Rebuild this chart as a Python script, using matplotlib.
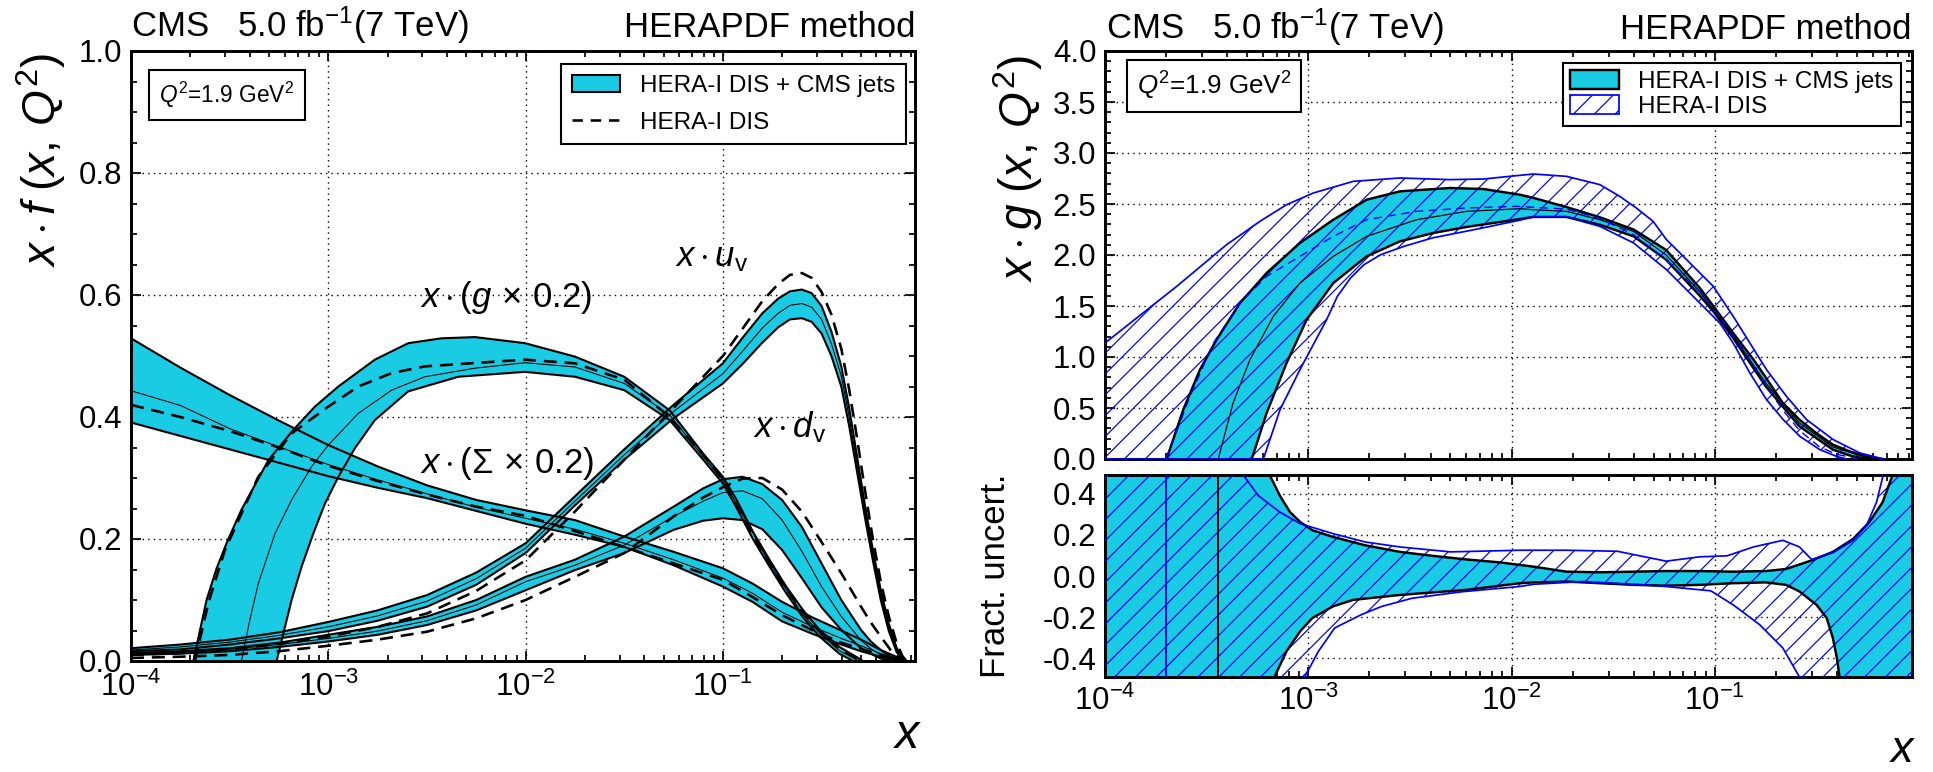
import numpy as np
import matplotlib
matplotlib.use('Agg')
import matplotlib.pyplot as plt
from matplotlib.patches import Patch
from matplotlib.lines import Line2D
from matplotlib.ticker import MultipleLocator, LogLocator, NullFormatter, FormatStrFormatter

W, H, DPI = 1933, 772, 125

plt.rcParams.update({
    'font.family': ['Liberation Sans', 'DejaVu Sans'],
    'mathtext.fontset': 'custom',
    'mathtext.rm': 'Liberation Sans',
    'mathtext.it': 'Liberation Sans:italic',
    'mathtext.bf': 'Liberation Sans:bold',
    'hatch.linewidth': 0.7,
    'hatch.color': 'blue',
})

CYAN = '#19cbe3'

# ---- left panel: x*f(x,Q2) (log10 x, value) ----
g_up_lx = [-3.684, -3.617, -3.566, -3.507, -3.44, -3.304, -3.177, -3.068, -2.949, -2.764, -2.595, -2.426, -2.257,
           -2.003, -1.75, -1.5, -1.27, -1.1, -1.0, -0.932, -0.848, -0.764, -0.679, -0.595, -0.51, -0.409, -0.341, -0.29]
g_up = [0, 0.100, 0.152, 0.200, 0.248, 0.329, 0.379, 0.417, 0.450, 0.494, 0.521, 0.529, 0.531,
        0.521, 0.499, 0.466, 0.411, 0.340, 0.302, 0.265, 0.212, 0.166, 0.122, 0.084, 0.051, 0.023, 0.010, 0.0]
g_lo_lx = [-3.262, -3.228, -3.186, -3.135, -3.076, -3.017, -2.949, -2.865, -2.764, -2.595, -2.341, -2.003, -1.75,
           -1.5, -1.27, -1.1, -1.0, -0.932, -0.848, -0.764, -0.679, -0.595, -0.51, -0.41, -0.34]
g_lo = [0, 0.045, 0.100, 0.155, 0.209, 0.258, 0.302, 0.349, 0.395, 0.442, 0.466, 0.474, 0.466,
        0.444, 0.395, 0.330, 0.291, 0.252, 0.200, 0.155, 0.111, 0.072, 0.040, 0.012, 0.0]
g_c_lx = [-3.44, -3.398, -3.355, -3.27, -3.186, -3.084, -3.0, -2.848, -2.679, -2.51, -2.257, -2.003, -1.75, -1.5,
          -1.27, -1.1, -1.0, -0.848, -0.764, -0.6, -0.51, -0.41, -0.31]
g_c = [0, 0.067, 0.127, 0.209, 0.264, 0.319, 0.354, 0.406, 0.444, 0.466, 0.480, 0.489, 0.482, 0.455,
       0.403, 0.335, 0.297, 0.210, 0.160, 0.078, 0.046, 0.017, 0.0]
g_d_lx = [-3.676, -3.608, -3.524, -3.355, -3.186, -3.0, -2.848, -2.679, -2.51, -2.003, -1.75, -1.5, -1.27,
          -1.1, -1.0, -0.848, -0.7, -0.55, -0.41, -0.3]
g_d = [0, 0.095, 0.182, 0.302, 0.373, 0.417, 0.450, 0.472, 0.483, 0.494, 0.488, 0.461, 0.400,
       0.338, 0.297, 0.205, 0.127, 0.062, 0.020, 0.0]

s_lx = [-4, -3.75, -3.5, -3.25, -3.0, -2.75, -2.5, -2.25, -2.0, -1.75, -1.5, -1.25, -1.0, -0.85, -0.7, -0.55,
        -0.4, -0.3, -0.2, -0.1, -0.07]
s_up = [0.529, 0.481, 0.436, 0.394, 0.354, 0.319, 0.288, 0.264, 0.247, 0.231, 0.204, 0.179, 0.152, 0.127, 0.097, 0.072,
        0.050, 0.035, 0.018, 0.004, 0.0]
s_lo = [0.391, 0.369, 0.347, 0.325, 0.303, 0.284, 0.267, 0.246, 0.225, 0.207, 0.187, 0.157, 0.122, 0.097, 0.065, 0.045,
        0.027, 0.016, 0.007, 0.001, 0.0]
s_c = [0.443, 0.419, 0.381, 0.351, 0.322, 0.297, 0.274, 0.252, 0.234, 0.216, 0.193, 0.166, 0.136, 0.111, 0.080, 0.057,
       0.037, 0.025, 0.012, 0.002, 0.0]
s_d = [0.420, 0.400, 0.377, 0.350, 0.320, 0.295, 0.273, 0.253, 0.238, 0.213, 0.187, 0.160, 0.133, 0.105, 0.075, 0.051,
       0.030, 0.020, 0.010, 0.002, 0.0]

uv_lx = [-4, -3.75, -3.5, -3.25, -3.0, -2.75, -2.5, -2.25, -2.0, -1.75, -1.5, -1.25, -1.0, -0.9, -0.8, -0.72,
         -0.66, -0.6, -0.55, -0.5, -0.45, -0.4, -0.36, -0.32, -0.28, -0.24, -0.2, -0.16, -0.12, -0.09, -0.07]
uv_up = [0.021, 0.027, 0.035, 0.047, 0.064, 0.083, 0.108, 0.145, 0.193, 0.270, 0.347, 0.420, 0.488, 0.530, 0.570, 0.594,
         0.606, 0.609, 0.603, 0.582, 0.540, 0.483, 0.415, 0.335, 0.255, 0.182, 0.116, 0.062, 0.022, 0.005, 0.0]
uv_lo = [0.016, 0.019, 0.027, 0.037, 0.049, 0.066, 0.089, 0.125, 0.177, 0.255, 0.330, 0.398, 0.455, 0.487, 0.522, 0.547,
         0.560, 0.562, 0.556, 0.537, 0.500, 0.450, 0.385, 0.310, 0.235, 0.165, 0.100, 0.050, 0.015, 0.002, 0.0]
uv_c = [0.018, 0.023, 0.031, 0.042, 0.056, 0.074, 0.098, 0.135, 0.185, 0.262, 0.338, 0.409, 0.471, 0.508, 0.546, 0.570,
        0.583, 0.586, 0.580, 0.560, 0.520, 0.467, 0.400, 0.322, 0.245, 0.173, 0.108, 0.056, 0.018, 0.003, 0.0]
uv_d = [0.010, 0.013, 0.019, 0.028, 0.040, 0.056, 0.078, 0.115, 0.165, 0.245, 0.330, 0.415, 0.500, 0.545, 0.590, 0.618,
        0.633, 0.636, 0.628, 0.605, 0.568, 0.512, 0.445, 0.365, 0.280, 0.200, 0.130, 0.074, 0.030, 0.008, 0.0]

dv_lx = [-4, -3.75, -3.5, -3.25, -3.0, -2.75, -2.5, -2.25, -2.0, -1.75, -1.5, -1.25, -1.1, -1.0, -0.9, -0.8,
         -0.7, -0.6, -0.5, -0.4, -0.3, -0.25, -0.2, -0.15, -0.1, -0.07]
dv_up = [0.013, 0.016, 0.021, 0.030, 0.043, 0.056, 0.073, 0.100, 0.138, 0.166, 0.204, 0.253, 0.283, 0.298, 0.302, 0.290,
         0.264, 0.220, 0.160, 0.100, 0.051, 0.032, 0.018, 0.007, 0.001, 0.0]
dv_lo = [0.010, 0.012, 0.016, 0.023, 0.032, 0.043, 0.059, 0.083, 0.116, 0.149, 0.177, 0.215, 0.230, 0.234, 0.231, 0.216,
         0.182, 0.136, 0.088, 0.051, 0.021, 0.012, 0.004, 0.001, 0.0, 0.0]
dv_c = [0.012, 0.014, 0.019, 0.027, 0.037, 0.049, 0.066, 0.092, 0.130, 0.157, 0.190, 0.237, 0.262, 0.276, 0.279, 0.266,
        0.231, 0.180, 0.122, 0.073, 0.034, 0.020, 0.010, 0.004, 0.0, 0.0]
dv_d = [0.005, 0.007, 0.010, 0.016, 0.025, 0.035, 0.048, 0.070, 0.100, 0.138, 0.177, 0.237, 0.268, 0.285, 0.299, 0.300,
        0.281, 0.245, 0.195, 0.144, 0.089, 0.063, 0.040, 0.018, 0.004, 0.0]

# ---- right top: x*g(x,Q2) ----
hu_lx = [-4, -3.647, -3.402, -3.238, -3.107, -2.975, -2.779, -2.549, -2.303, -2.139, -1.975, -1.893, -1.73, -1.566,
         -1.468, -1.386, -1.304, -1.238, -1.172, -1.074, -1.008, -0.91, -0.828, -0.746, -0.648, -0.549, -0.418,
         -0.287, -0.172]
hu = [1.137, 1.693, 2.101, 2.33, 2.493, 2.608, 2.722, 2.755, 2.739, 2.745, 2.778, 2.794, 2.771, 2.69,
      2.575, 2.46, 2.33, 2.15, 2.02, 1.824, 1.693, 1.399, 1.137, 0.876, 0.614, 0.386, 0.19,
      0.059, 0.0]
hl_lx = [-4, -3.221, -3.139, -3.041, -2.91, -2.857, -2.792, -2.726, -2.644, -2.529, -2.39, -2.143, -1.963, -1.893,
         -1.73, -1.566, -1.40, -1.238, -1.074, -0.976, -0.91, -0.828, -0.746, -0.664, -0.582, -0.484, -0.402, -0.353]
hl = [0, 0, 0.484, 0.876, 1.366, 1.595, 1.775, 1.905, 2.003, 2.085, 2.167, 2.265, 2.34, 2.373,
      2.373, 2.281, 2.118, 1.856, 1.529, 1.333, 1.137, 0.843, 0.582, 0.386, 0.222, 0.092, 0.026, 0.0]
hc_lx = [-3.70, -3.582, -3.467, -3.336, -3.205, -3.041, -2.877, -2.713, -2.467, -2.221, -1.975, -1.73, -1.566,
         -1.40, -1.24, -1.074, -0.91, -0.83, -0.75, -0.666, -0.584, -0.486, -0.40, -0.30]
hc = [0, 0.614, 1.137, 1.529, 1.791, 1.987, 2.183, 2.346, 2.428, 2.461, 2.477, 2.45, 2.36,
      2.20, 1.95, 1.64, 1.22, 0.98, 0.72, 0.48, 0.28, 0.12, 0.045, 0.005]

cu_lx = [-3.697, -3.615, -3.533, -3.451, -3.336, -3.205, -3.041, -2.877, -2.713, -2.549, -2.303, -2.139, -1.959,
         -1.893, -1.73, -1.566, -1.40, -1.24, -1.074, -1.008, -0.91, -0.81, -0.75, -0.666, -0.584, -0.502, -0.42,
         -0.338, -0.256, -0.175]
cu = [0, 0.484, 0.876, 1.17, 1.529, 1.824, 2.118, 2.346, 2.542, 2.624, 2.657, 2.647, 2.591,
      2.56, 2.47, 2.37, 2.25, 2.05, 1.676, 1.50, 1.235, 0.974, 0.80, 0.549, 0.386, 0.255, 0.141,
      0.075, 0.026, 0.0]
cl_lx = [-3.278, -3.205, -3.107, -3.008, -2.877, -2.713, -2.549, -2.385, -2.221, -1.959, -1.893, -1.73, -1.566,
         -1.40, -1.24, -1.074, -1.008, -0.91, -0.75, -0.584, -0.42, -0.33, -0.25]
cl = [0, 0.451, 0.941, 1.366, 1.725, 1.987, 2.134, 2.216, 2.275, 2.353, 2.373, 2.373, 2.297,
      2.183, 1.954, 1.60, 1.448, 1.186, 0.712, 0.32, 0.092, 0.03, 0.0]
cc_lx = [-3.443, -3.37, -3.287, -3.172, -3.041, -2.877, -2.713, -2.467, -2.221, -1.959, -1.893, -1.73, -1.566,
         -1.40, -1.24, -1.074, -0.91, -0.75, -0.584, -0.42, -0.256, -0.175]
cc = [0, 0.549, 0.974, 1.399, 1.725, 1.987, 2.183, 2.346, 2.428, 2.454, 2.444, 2.428, 2.346,
      2.232, 2.0, 1.64, 1.21, 0.745, 0.353, 0.118, 0.016, 0.0]

# ---- right bottom: fractional uncertainty ----
fcu_lx = [-3.19, -3.14, -3.09, -3.04, -2.98, -2.88, -2.72, -2.55, -2.39, -2.22, -2.057, -1.89, -1.73, -1.566,
          -1.40, -1.24, -1.074, -0.91, -0.75, -0.65, -0.52, -0.42, -0.32, -0.24, -0.175, -0.126]
fcu = [0.49, 0.39, 0.31, 0.262, 0.222, 0.19, 0.149, 0.117, 0.098, 0.08, 0.066, 0.045, 0.021, 0.018,
       0.021, 0.024, 0.024, 0.021, 0.024, 0.034, 0.077, 0.117, 0.18, 0.262, 0.358, 0.49]
fcl_lx = [-3.167, -3.107, -3.04, -2.98, -2.88, -2.78, -2.55, -2.22, -1.96, -1.89, -1.73, -1.566, -1.40, -1.24,
          -1.074, -0.91, -0.75, -0.65, -0.584, -0.50, -0.45, -0.42, -0.40, -0.387]
fcl = [-0.49, -0.365, -0.268, -0.204, -0.148, -0.116, -0.092, -0.067, -0.035, -0.031, -0.027, -0.035, -0.043, -0.047,
       -0.043, -0.035, -0.031, -0.043, -0.075, -0.14, -0.204, -0.30, -0.397, -0.49]
fhu_lx = [-3.32, -3.246, -3.14, -3.04, -2.88, -2.72, -2.55, -2.30, -1.96, -1.73, -1.48, -1.24, -1.074, -0.94,
          -0.81, -0.666, -0.584, -0.524, -0.418, -0.32, -0.254, -0.205, -0.172]
fhu = [0.49, 0.39, 0.31, 0.254, 0.206, 0.165, 0.141, 0.117, 0.125, 0.125, 0.12, 0.072, 0.093, 0.098,
       0.141, 0.173, 0.141, 0.08, 0.114, 0.173, 0.246, 0.358, 0.49]
fhl_lx = [-3.018, -2.95, -2.87, -2.74, -2.64, -2.49, -2.24, -1.96, -1.89, -1.65, -1.40, -1.24, -1.02, -0.91,
          -0.78, -0.666, -0.584]
fhl = [-0.49, -0.365, -0.252, -0.188, -0.148, -0.108, -0.076, -0.051, -0.040, -0.027, -0.040, -0.051, -0.072, -0.14,
       -0.236, -0.349, -0.49]

XMAX_L, XMAX_R = 10 ** -0.0264, 10 ** -0.0305
FLIM = 0.49


def X(lx):
    return 10 ** np.asarray(lx, dtype=float)


def fig_xy(x, y):
    return x / W, 1 - y / H


def band(ax, xu, yu, xl, yl, **kw):
    ax.fill(np.r_[X(xu), X(xl)[::-1]], np.r_[yu, yl[::-1]], **kw)


def style(ax, ymaj, ymin, xmax, ylim):
    ax.set_xscale('log')
    ax.set_xlim(1e-4, xmax)
    ax.set_ylim(*ylim)
    ax.yaxis.set_major_locator(MultipleLocator(ymaj))
    ax.yaxis.set_minor_locator(MultipleLocator(ymin))
    ax.yaxis.set_major_formatter(FormatStrFormatter('%.1f'))
    ax.xaxis.set_major_locator(LogLocator(10, numticks=10))
    ax.xaxis.set_minor_locator(LogLocator(10, subs=np.arange(2, 10), numticks=20))
    ax.xaxis.set_minor_formatter(NullFormatter())
    ax.tick_params(which='both', direction='in', top=True, right=True, labelsize=18, width=1.0)
    ax.tick_params(which='major', length=6, pad=5)
    ax.tick_params(which='minor', length=3.5)
    ax.grid(True, which='major', color='k', ls=(0, (1, 3)), lw=0.8)
    ax.set_axisbelow(True)
    for s in ax.spines.values():
        s.set_linewidth(1.7)


fig = plt.figure(figsize=(W / DPI, H / DPI), dpi=DPI)
axL = fig.add_axes([131 / W, 1 - 661 / H, (915 - 131) / W, (661 - 51) / H])
axT = fig.add_axes([1105 / W, 1 - 459 / H, (1912 - 1105) / W, (459 - 51) / H])
axB = fig.add_axes([1105 / W, 1 - 677 / H, (1912 - 1105) / W, (677 - 475) / H])

style(axL, 0.2, 0.05, XMAX_L, (0, 1.0))
style(axT, 0.5, 0.1, XMAX_R, (0, 4.0))
style(axB, 0.2, 0.1, XMAX_R, (-FLIM, FLIM))
axT.tick_params(labelbottom=False)
axL.tick_params(axis='x', which='major', pad=6)

# left panel
bands = [(g_up_lx, g_up, g_lo_lx, g_lo), (s_lx, s_up, s_lx, s_lo),
         (uv_lx, uv_up, uv_lx, uv_lo), (dv_lx, dv_up, dv_lx, dv_lo)]
for xu, yu, xl, yl in bands:
    band(axL, xu, yu, xl, yl, fc=CYAN, lw=0, zorder=2)
for xu, yu, xl, yl in bands:
    axL.plot(X(xu), yu, color='k', lw=1.2, zorder=3)
    axL.plot(X(xl), yl, color='k', lw=1.2, zorder=3)
for lx, y in [(g_c_lx, g_c), (s_lx, s_c), (uv_lx, uv_c), (dv_lx, dv_c)]:
    axL.plot(X(lx), y, color='k', lw=0.6, zorder=3)
for lx, y in [(g_d_lx, g_d), (s_lx, s_d), (uv_lx, uv_d), (dv_lx, dv_d)]:
    axL.plot(X(lx), y, color='k', lw=1.5, ls=(0, (5, 3)), zorder=4)

# right top
band(axT, cu_lx, cu, cl_lx, cl, fc=CYAN, lw=0, zorder=2)
band(axT, hu_lx, hu, hl_lx, hl, fc='none', ec='blue', lw=0, hatch='//', zorder=3)
axT.plot(X(cu_lx), cu, color='k', lw=1.4, zorder=4)
axT.plot(X(cl_lx), cl, color='k', lw=1.4, zorder=4)
axT.plot(X(cc_lx), cc, color='k', lw=0.7, zorder=4)
axT.plot(X(hu_lx), hu, color='blue', lw=1.0, zorder=5)
axT.plot(X(hl_lx), hl, color='blue', lw=1.0, zorder=5)
axT.plot(X(hc_lx), hc, color='blue', lw=0.8, ls=(0, (6, 4)), zorder=5)

# right bottom
lx0, lx1 = -4, np.log10(XMAX_R)
band(axB, [lx0] + fcu_lx + [lx1], [FLIM] + fcu + [FLIM], [lx0] + fcl_lx + [lx1], [-FLIM] + fcl + [-FLIM],
     fc=CYAN, lw=0, zorder=2)
band(axB, [lx0] + fhu_lx + [lx1], [FLIM] + fhu + [FLIM], [lx0] + fhl_lx + [lx1], [-FLIM] + fhl + [-FLIM],
     fc='none', ec='blue', lw=0, hatch='//', zorder=3)
axB.plot(X(fcu_lx), fcu, color='k', lw=1.4, zorder=4)
axB.plot(X(fcl_lx), fcl, color='k', lw=1.4, zorder=4)
axB.plot(X(fhu_lx), fhu, color='blue', lw=1.0, zorder=5)
axB.plot(X(fhl_lx), fhl, color='blue', lw=1.0, zorder=5)
axB.axvline(X(cc_lx[0]), color='k', lw=1.1, zorder=5)
axB.axvline(X(hc_lx[0]), color='blue', lw=1.1, zorder=5)

# curve labels
for txt, (px, py) in [(r'$x\cdot(g\,\times\,0.2)$', (506, 297)), (r'$x\cdot u_\mathrm{v}$', (712, 257)),
                      (r'$x\cdot(\Sigma\,\times\,0.2)$', (507, 463)), (r'$x\cdot d_\mathrm{v}$', (790, 427))]:
    fig.text(*fig_xy(px, py), txt, fontsize=20, ha='center', va='center')

# headers
for xl_, xr_, yb in [(131, 916, 37), (1106, 1912, 39)]:
    fig.text(*fig_xy(xl_, yb), r'CMS   5.0 fb$^{-1}$(7 TeV)', fontsize=20, ha='left', va='baseline')
    fig.text(*fig_xy(xr_, yb), 'HERAPDF method', fontsize=20, ha='right', va='baseline')

# Q2 boxes
fig.text(*fig_xy(227, 95), r'$Q^2$=1.9 GeV$^2$', fontsize=13, ha='center', va='center',
         bbox=dict(boxstyle='square,pad=0.45', fc='white', ec='k', lw=1.2))
fig.text(*fig_xy(1214, 86), r'$Q^2$=1.9 GeV$^2$', fontsize=15, ha='center', va='center',
         bbox=dict(boxstyle='square,pad=0.38', fc='white', ec='k', lw=1.2))

# legends
hL = [Patch(fc=CYAN, ec='k', lw=1.2), Line2D([], [], color='k', lw=1.5, ls=(0, (4, 3)))]
legL = axL.legend(hL, ['HERA-I DIS + CMS jets', 'HERA-I DIS'], loc='upper right', fontsize=14,
                  bbox_to_anchor=fig_xy(906, 64), bbox_transform=fig.transFigure, borderaxespad=0,
                  fancybox=False, edgecolor='k', framealpha=1, borderpad=0.45, labelspacing=0.6,
                  handlelength=2.0, handletextpad=0.8)
legL.get_frame().set_linewidth(1.2)
hR = [Patch(fc=CYAN, ec='k', lw=1.4), Patch(fc='white', ec='blue', lw=1.0, hatch='//')]
legR = axT.legend(hR, ['HERA-I DIS + CMS jets', 'HERA-I DIS'], loc='upper right', fontsize=14,
                  bbox_to_anchor=fig_xy(1901, 63), bbox_transform=fig.transFigure, borderaxespad=0,
                  fancybox=False, edgecolor='k', framealpha=1, borderpad=0.3, labelspacing=0.1,
                  handlelength=2.0, handleheight=0.8, handletextpad=0.8)
legR.get_frame().set_linewidth(1.2)

# axis titles
fig.text(*fig_xy(41, 53), r'$x\cdot f\;(x,\,Q^{2})$', fontsize=26.5, rotation=90, ha='center', va='top')
fig.text(*fig_xy(1018, 55), r'$x\cdot g\;(x,\,Q^{2})$', fontsize=26.5, rotation=90, ha='center', va='top')
fig.text(*fig_xy(995, 576), 'Fract. uncert.', fontsize=20, rotation=90, ha='center', va='center')
fig.text(*fig_xy(908, 736), r'$x$', fontsize=28, ha='center', va='center')
fig.text(*fig_xy(1903, 750), r'$x$', fontsize=26, ha='center', va='center')

fig.savefig('out.png', dpi=DPI, facecolor='white')
